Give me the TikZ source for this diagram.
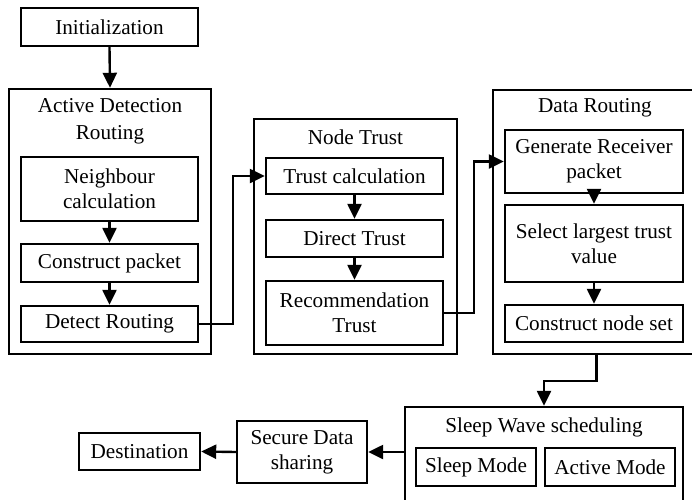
\documentclass[tikz,border=0pt]{standalone}
\usepackage{fontspec}
\setmainfont{Liberation Serif}
\usetikzlibrary{arrows.meta}

\begin{document}
\begin{tikzpicture}[x=0.5pt,y=-0.5pt,
    box/.style={draw, line width=1.2pt, inner sep=1pt, align=center, font=\fontsize{10.6}{12.6}\selectfont},
    grp/.style={draw, line width=1.2pt, inner sep=0pt},
    ttl/.style={align=center, inner sep=0pt, font=\fontsize{10.6}{13.5}\selectfont},
    arr/.style={-{Triangle[length=7.5pt,width=7pt]}, line width=1.2pt}]
    \useasboundingbox (0,0) rectangle (692,499);
    \clip (0,0) rectangle (692,499);

    \node [box, minimum width=88.5pt, minimum height=19pt] (init) at (109.5,27) {Initialization};

    % active detection routing
    \node [grp, minimum width=101pt, minimum height=132.5pt] (adr) at (110,221.5) {};
    \node [ttl] (adrT) at (110,121.5) {Active Detection\\Routing};
    \node [box, minimum width=88.5pt, minimum height=32pt] (nbr) at (109.5,189) {Neighbour\\calculation};
    \node [box, minimum width=88.5pt, minimum height=19pt] (cpk) at (109.5,263) {Construct packet};
    \node [box, minimum width=88.5pt, minimum height=18pt] (det) at (109.5,324) {Detect Routing};

    % node trust
    \node [grp, minimum width=101.5pt, minimum height=117.5pt] (nt) at (355.5,236.5) {};
    \node [ttl] (ntT) at (355.5,137) {Node Trust};
    \node [box, minimum width=88.5pt, minimum height=18pt] (tc) at (354.5,176) {Trust calculation};
    \node [box, minimum width=88.5pt, minimum height=18.5pt] (dt) at (354.5,238.5) {Direct Trust};
    \node [box, minimum width=88.5pt, minimum height=32pt] (rt) at (354.5,313) {Recommendation\\Trust};

    % data routing
    \node [grp, minimum width=103.5pt, minimum height=132pt] (dr) at (596.5,222) {};
    \node [ttl] (drT) at (595,108) {Data Routing};
    \node [box, minimum width=89pt, minimum height=31.5pt] (grp) at (594,161.5) {Generate Receiver\\packet};
    \node [box, minimum width=89pt, minimum height=38.5pt] (sel) at (594,243.5) {Select largest trust\\value};
    \node [box, minimum width=89pt, minimum height=18.5pt] (cns) at (594,323.5) {Construct node set};

    % sleep wave scheduling
    \node [grp, minimum width=139pt, minimum height=51.5pt] (sws) at (544,458.5) {};
    \node [ttl] (swsT) at (544,427) {Sleep Wave scheduling};
    \node [box, minimum width=60pt, minimum height=19pt] (slp) at (476,467) {Sleep Mode};
    \node [box, minimum width=65pt, minimum height=19pt] (act) at (610,467) {Active Mode};

    \node [box, minimum width=65pt, minimum height=31pt] (sds) at (302,452) {Secure Data\\sharing};
    \node [box, minimum width=60.5pt, minimum height=18.5pt] (dst) at (139.5,451.5) {Destination};

    \draw [arr] (init.south) -- (adr.north);
    \draw [arr] (nbr.south) -- (cpk.north);
    \draw [arr] (cpk.south) -- (det.north);
    \draw [arr] (det.east) -- ++(34,0) |- (tc.west);
    \draw [arr] (tc.south) -- (dt.north);
    \draw [arr] (dt.south) -- (rt.north);
    \draw [arr] (rt.east) -- ++(30,0) |- (grp.west);
    \draw [arr] (grp.south) -- (sel.north);
    \draw [arr] (sel.south) -- (cns.north);
    \draw [arr] (dr.south) -- ++(0,26) -| (sws.north);
    \draw [arr] (sws.west |- sds.east) -- (sds.east);
    \draw [arr] (sds.west) -- (dst.east);
\end{tikzpicture}
\end{document}
